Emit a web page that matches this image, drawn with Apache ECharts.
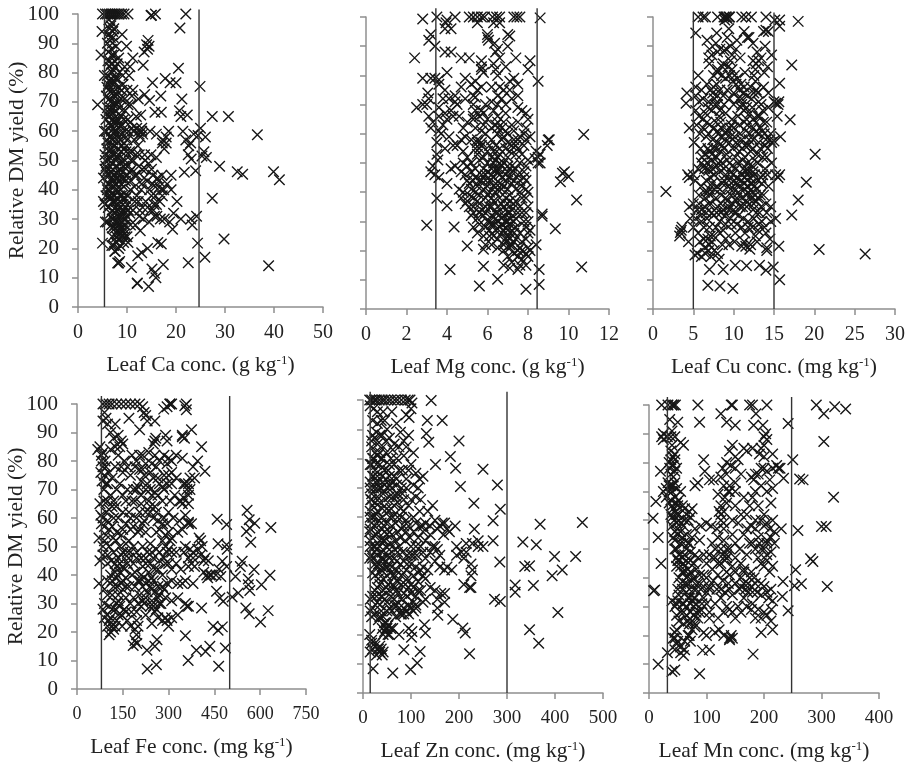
<!DOCTYPE html>
<html>
<head>
<meta charset="utf-8">
<style>html,body{margin:0;padding:0;background:#fff}#chart{width:909px;height:763px}</style>
<script src="https://cdn.jsdelivr.net/npm/echarts@6/dist/echarts.min.js"></script>
</head>
<body>
<div id="chart"></div>
<script>
const yTicksMax = 100

const caPoints = [[5,100],[5.6,100],[6,100],[6.4,100],[6.8,100],[7.2,100],[7.6,100],[8,100],[8.4,100],[8.9,100],[9.4,100],[10.2,100],[15,99.6],[15.8,100],[22,100],
[20.8,95.2],[20.5,81.5],[24.9,75.3],[27.4,65],[30.7,65],[36.6,58.8],[28.9,48],[32.5,46.2],[33.6,45.3],[39.9,46.2],[41.1,43.4],[27.4,37.1],[29.8,23.2],[38.9,14.1],[25.9,17],[24.4,21.8],[22.5,15.1],
[4,69],[4.7,86],[4.9,94],[5,21.8],[5.2,36],[5.4,79],[5.5,52],[5.2,44],[5.4,60],[5.6,29],[5.8,72],[5.7,48],[5.9,66],[6,90],[6,40],[6.1,56],[6.2,76],[6.2,34],[6.3,93],[6.4,63],[6.4,45],[6.5,84],[6.5,51],[6.6,70],[6.6,38],[6.7,96],[6.7,58],[6.8,88],[6.8,43],[6.9,74],[6.9,21],[7,80],[7,53],[7,30],[7.1,66],[7.1,47],[7.2,92],[7.2,36],[7.3,61],[7.3,86],[7.4,41],[7.4,72],[7.5,55],[7.5,28],[7.6,78],[7.6,19],[7.7,64],[7.7,50],[7.8,89],[7.8,34],[7.9,69],[7.9,44],[8,83],[8,25],[8.1,59],[8.1,39],[8.2,75],[8.2,52],[8.3,29],[8.3,15],[8.4,66],[8.4,46],[8.5,80],[8.5,36],[8.6,57],[8.6,21],[8.7,27],[8.8,71],[8.8,42],[8.9,50],[9,32],[9,93],[9,62],[9.1,26],[9.2,76],[9.2,37],[9.3,54],[9.4,44],[9.4,30],[9.5,82],[9.6,67],[9.6,24],[9.7,34],[9.8,58],[9.9,89],[10,74],[10,48],[10.1,38],[10.2,64],[10.2,22],[10.4,79],[10.5,53],[10.6,32],[10.8,43],[10.9,13.5],[11,61],[11.2,85],[11.2,74],[11.3,50],[11.5,57],[11.6,36],[11.7,28],[11.9,65],[12,45],[12.1,8],[12.2,17.5],[12.3,71],[12.4,60],[12.5,52],[12.6,33],[12.7,26],[12.8,65.5],[12.9,40],[13,18.5],[13.1,47],[13.2,59],[13.3,82.5],[13.3,30],[13.5,87],[13.6,72.5],[13.7,50],[13.8,36],[14,89.5],[14.1,43],[14.2,20],[14.3,91],[14.4,7],[14.5,29],[14.6,70.5],[14.7,60],[14.9,52],[15,38],[15.1,13],[15.2,76.5],[15.3,45],[15.4,33],[15.6,11.5],[15.7,66.5],[15.8,41],[15.9,10],[16,59],[16.1,31],[16.3,22],[16.5,43],[16.7,36],[16.9,72],[17,66.5],[17,21.5],[17.1,45],[17.2,56],[17.4,14.5],[17.5,40],[17.6,30],[17.8,78],[18,58],[18.2,42],[18.5,60],[18.8,76.5],[19,45],[19,40],[19.3,26.5],[19.5,32],[20,76.5],[20.2,36],[20.7,67],[21,65],[21.2,71],[21.4,60],[21,30],[21.7,46],[22,57],[22.3,65.5],[22.6,55],[23,30],[23.1,50.5],[23.3,28],[23.6,59],[24,46.5],[24.2,31],[24.5,58.5],[25,61],[25.3,51.5],[25.7,53],[26,58],[26.2,51]]

const caDense = [[6.3,98],[6.9,97],[7.3,95],[6.6,92],[7,90],[6.2,87],[6.9,86],[7.5,84],[6.4,82],[7.2,81],[6,79],[6.7,78],[7.4,77],[8,78],[6.2,74],[7,73],[7.7,73],[6.4,71],[7.3,69],[8.1,70],[6,68],[6.8,67],[7.6,67],[8.5,68],[6.3,65],[7.1,64],[7.9,63],[8.8,65],[6.6,62],[7.5,60],[8.4,61],[5.8,60],[6.4,58],[7.1,57],[7.9,57],[8.7,59],[9.6,60],[5.9,54],[6.7,54],[7.4,52],[8.2,54],[9,55],[10,57],[11.3,60],[12,61],[12.5,59],[13,61],[6.2,50],[7,49],[7.9,48],[8.7,49],[9.6,50],[5.8,46],[6.6,46],[7.4,45],[8.2,44],[9.1,46],[10.1,45],[11,47],[6.1,42],[7,41],[7.8,42],[8.6,40],[9.4,41],[5.7,38],[6.5,37],[7.3,38],[8.1,37],[8.9,38],[9.7,37],[6.2,34],[7,33],[7.8,33],[8.6,34],[9.3,33],[10,35],[8.3,31],[8.8,31],[9.5,32],[10,31],[7.2,30],[7.8,29],[8.4,28],[8.9,29],[9.5,28],[6.8,28],[7.6,27],[8.1,26],[8.7,25],[9.2,27],[9,24],[9.5,25],[8.2,23],[7.7,22],[7.3,21],[8.3,20],[10,24],[8.1,15],[8.5,15.5],[14.5,89],[15.2,42],[15.8,38],[16.2,44],[16.6,41],[17,40],[17.2,38],[15.5,35],[16,35],[14.8,33],[13,60],[12.7,58],[11.8,52],[12.4,48],[10.8,69],[11.6,45],[13.5,44],[14.4,49],[10.6,82],[11,72],[9.5,71],[10.6,63],[12,38],[13.2,34],[10.7,28],[17.3,57],[17.6,54],[18,56],[22.5,52],[23,56],[14.2,88],[12.1,8.2],[14.9,99.5]]

const caFill = [[6.5,95],[7.1,94],[6.1,84],[6.8,83],[7.6,82],[8.3,85],[6.4,77],[7.2,76],[8.4,73],[9.1,79],[5.9,75],[6.7,68],[7.5,70],[8.9,74],[5.7,64],[6.5,66],[7.3,63],[8.2,64],[9.3,64],[10.2,69],[5.9,57],[6.8,60],[7.7,59],[8.6,62],[9.4,56],[10.3,60],[5.6,50],[6.4,53],[7.2,55],[8,51],[8.9,53],[9.8,53],[10.8,50],[5.5,47],[6.1,47],[6.9,44],[7.7,46],[8.5,47],[9.3,48],[10.5,46],[5.8,41],[6.4,40],[7.2,43],[8,40],[8.8,44],[9.7,43],[10.7,40],[5.5,35],[6.3,38],[7,36],[7.8,36],[8.5,38],[9.2,35],[10.3,33],[11.2,33],[6.6,32],[7.5,32],[8.2,33],[9,29],[9.8,30],[6,29],[7,27],[7.9,24],[8.5,27],[9.3,22],[7,24],[7.5,19],[11.5,41],[12.3,36],[13,42],[13.8,47],[14.6,40],[15,47],[16,51],[11,53],[12.2,55],[13.6,52],[14.2,34],[12.5,31],[15.6,31],[18.7,29],[16.8,30]]

const mgPoints = [[2.8,99.3],[3.5,100],[8.6,99.7],[2.4,86],[10.75,59.8],[9,57.9],[9.7,46.5],[10,45.3],[9.6,43.6],[9.8,47],[10.4,37.3],[8.7,31.8],[9.35,27.5],[10.65,14.4],[3,28.7],[4.35,28.1],[3.5,37.9],[4,35.4],[5,21.6],[4.15,13.5],[5.8,14.6],[5.6,7.9],[6.5,10.2],[7.9,6.8],[8.55,8.4],[8.55,13.5],[6.8,15],
[4,99],[4.4,100],[5.1,100],[5.3,100],[5.5,100],[5.7,100],[5.85,100],[6.25,100],[6.45,100],[6.6,100],[7.3,100],[7.45,100],[7.6,100],[6,94],[6,93],[6.05,92],[7,94],[7.1,93.5],[3.9,96],[3.95,98],[3.1,92],[3.2,94],[3.4,90],[3.9,88],[4.2,88],[4.7,86],[5.1,86],[5.7,83],[6.4,88],[6.6,86],[7.4,86],[8.1,85],[8,82],[8.5,78],[7.3,79],[7,90],[6.4,82],[6.5,80],[4,81],[2.8,79],[3.2,79],[3.4,79],[3.6,78.5],[4.9,79],[5.4,78],[5.7,82],[6.6,76],[6.8,75],[7.1,78],[5.3,73],[5.5,75],[5.7,76],[3.05,74],[3.1,72],[3.8,72],[4.1,72],[4.4,73],[4.4,71],[4.9,72],[5.4,72.5],[5.9,70],[6.5,70],[7.2,72],[2.5,69],[2.8,70],[3,70],[3.6,69],[3.9,67],[4.2,68],[5.3,66],[5.6,66],[5.8,67],[6.3,68],[6.9,67],[7.5,69],[7.7,68],[7.9,67],[8,65],[3.1,66],[3.3,64],[3.6,66],[4,65],[4.3,66],[3.2,62],[3.6,61],[3.7,60],[5,64],[5.3,65],[5.8,63],[6.4,63],[6.5,64],[7,60],[7.3,61],[7.6,59],[8.1,59],[4.7,58],[4.9,59],[5.2,58],[5.5,57],[5.7,56],[5.9,60],[6.2,58],[6.5,60],[6.7,58],[7,57],[7.2,56],[7.5,58],[7.8,56],[8.35,51.5],[8.5,52],[8.6,53],[3.5,53],[3.55,51],[3.3,49],[3.2,47],[3.4,46],[3.6,45],[4,43],[4.2,48],[4.4,49],[4.8,50],[5,49],[5.2,47],[5.4,45],[5.6,51],[5.8,48],[6,54],[6.2,52],[6.3,50],[6.5,48],[6.6,53],[6.8,50],[7,52],[7.2,49],[7.4,53],[7.6,50],[7.8,47],[8,51],[5,44],[5.2,41],[5.5,42],[5.7,44],[5.9,46],[6,42],[6.1,40],[6.3,45],[6.4,43],[6.6,46],[6.7,41],[6.9,44],[7,47],[7.1,39],[7.3,44],[7.5,46],[7.7,42],[7.9,44],[8,40],[4.7,38],[4.9,36],[5.1,35],[5.3,38],[5.5,37],[5.7,34],[5.9,38],[6.1,35],[6.3,37],[6.4,33],[6.6,38],[6.8,35],[7,36],[7.2,34],[7.4,37],[7.6,35],[7.9,38],[5.2,32],[5.5,31],[5.8,32],[6,30],[6.2,29],[6.4,31],[6.6,28],[6.8,32],[6.9,30],[7.1,31],[7.2,27],[7.9,28],[8,30],[5.5,26],[5.8,25],[6.1,27],[6.3,25],[6.5,24],[6.7,26],[6.9,23],[7,25],[7.2,22],[7.4,24],[7.6,21],[7.9,24],[8.4,22],[5.8,20.5],[6.2,22],[6.8,20],[7.1,21],[7.3,19],[7.5,18],[7.7,17],[7.9,19],[8.1,20],[7.2,16],[7.5,13.5],[7.9,15],[8,18]]

const mgDense = [[5.5,58],[5.7,57],[5.6,55],[6.4,56],[6.6,55],[6.8,59],[7.1,54],[7.3,58],[7.4,56],[6.3,54],[6.5,52],[6.4,51],[6.6,50],[6.7,49],[6.5,47],[6.2,48],[6,50],[5.9,44],[6.1,44],[6.2,46],[6.3,42],[6.5,41],[6,39],[6.2,38],[6.4,40],[6.6,43],[6.8,42],[7,41],[7.2,43],[7.4,41],[7.6,40],[7.7,38],[7.8,45],[7,49],[7.2,47],[7.4,48],[6.9,46],[6.7,36],[6.9,38],[7.1,37],[7.3,36],[7.5,33],[6.2,35],[5.9,35],[5.6,36],[5.3,35],[5,37],[6.5,33],[6.7,31],[6.9,34],[7,33],[7.1,29],[6.9,28],[6.7,29],[6.5,30],[6.3,29],[6.1,30],[6.8,27],[7,27],[7,30],[7.3,30],[5.6,44],[5.4,48],[5.2,50],[5.7,46],[5.5,53],[6.9,24],[7.1,22],[6.8,22],[7.3,23],[7.5,20],[7.7,20],[8,21],[6.5,89],[6.35,91],[5.7,85],[5.8,81],[6.3,84],[6.5,73],[6.7,72],[5.3,70],[5.4,68],[5.7,68],[4.5,70],[3.8,63],[3.9,75],[8.5,50],[8.4,54],[8.6,50],[9.05,58],[8.95,56],[8.7,32.5],[8.1,27],[5.4,62],[5.7,61],[6.5,66],[3.6,77],[6.6,98],[6.3,98],[5.5,98],[4.2,96],[7.1,75],[6.5,62],[6.7,62],[6.9,61],[7.9,62]]

const mgFill = [[4.5,56],[4.8,54],[5,52],[5.4,55],[5.8,52],[6.1,56],[6.9,55],[7.5,55],[7.7,53],[7.9,58],[4.7,47],[4.9,46],[5.1,43],[5.3,44],[5.4,40],[5.6,39],[5.8,41],[6,47],[6.4,48],[6.7,45],[7.1,45],[7.6,44],[7.9,41],[7.9,49],[4.6,41],[4.8,40],[5.1,39],[5.3,33],[5.6,33],[5.9,33],[6.2,32],[6.5,35],[7.1,33],[7.4,31],[7.7,33],[7.9,33],[8,35],[5.3,28],[5.6,29],[5.9,28],[6.1,25],[6.4,27],[7.4,28],[7.6,26],[7.8,30],[7.1,24],[7.3,26],[7.7,23],[8,26],[5.9,22],[6.5,21],[7,18],[7.6,15],[7.1,14],[4.1,59],[4.3,56],[3.5,57],[3.9,55],[6,65],[6.2,62],[6.8,64],[7.2,63],[7.5,64],[7.8,60],[6.2,71],[6.9,70],[7.5,73],[5.2,77],[4.7,76],[4.6,66],[4.8,62],[6.9,83],[7.5,77],[6.2,76]]

const cuPoints = [[1.6,40.2],[3.4,26.2],[18,98.5],[17.2,83.6],[17,64.8],[20.1,53],[19,43.4],[18,37.3],[17.2,32.2],[20.6,20.4],[26.3,18.8],[15.7,10],[15.7,99],[15.7,96.8],[15.7,77.3],[6.8,8.1],[8.3,7.9],[9.9,7],[7,13.5],[8.7,13.5],[10.2,15],[11.6,14.8],[13.2,15],[14.9,14.4],[14,13.3],
[5.6,100],[6.2,100],[6.5,100],[8,100],[8.8,100],[9.1,100],[9.4,100],[11,100],[11.5,100],[12.2,100],[14,100],[15.1,99],[5.3,94.5],[7.9,94.5],[9.4,96],[9.2,93],[11.3,95],[11.7,93],[13.7,95],[14,95.5],[13.9,90],[14.7,87],[7,89],[7.3,87],[8.3,89],[8.8,88.5],[9.8,87],[10.3,89],[10.8,86],[6.9,86],[7,84],[12.7,82],[12.8,84],[13.1,85],[13.4,86],[12.5,80],[5.6,80],[8,82],[8.5,80],[9,79],[9.5,80],[9.9,78],[10.3,77],[5.3,76],[6,75],[6.7,77],[7.5,76],[8.3,75],[8.7,73],[10.7,75],[11.2,74],[11.7,73],[12.2,72],[12.8,75],[13.7,76],[14.3,74],[4.2,74],[4.1,70.5],[5.3,73],[6.2,72],[6.9,71],[7.6,72],[8,70],[8.8,70],[9.5,72],[10,70],[11,70],[11.3,68],[12.3,69],[13.4,70],[14.3,69],[15,71],[15.2,70.5],[5.3,68],[5.7,66],[6.5,67],[7.3,68],[8.2,66],[9,67],[9.8,65],[10.5,66],[11.3,64],[12.4,65],[13,66],[13.7,64],[15.4,66],[4.5,62],[5.4,63],[6.2,62],[7,63],[7.8,64],[8.5,62],[9.2,61],[10,62],[10.8,60],[11.5,61],[12.4,62],[13,60],[13.6,61],[5.1,57],[6.6,59],[7.4,58],[8.1,60],[8.9,58],[9.6,59],[10.3,57],[11,58],[11.8,56],[12.4,58],[13.1,57],[13.9,56],[14.5,58],[15,57.5],[15.8,59],[7,54],[7.8,55],[8.4,54],[9.1,53],[9.9,55],[10.7,54],[11.4,52],[12.1,54],[12.9,53],[13.6,52],[6,50],[6.7,50],[7.3,51],[7.9,49],[8.6,50],[9.2,51],[9.8,49],[10.5,50],[11.2,48],[11.7,50],[12.3,49],[13,50],[13.9,48],[6.4,48],[6.9,47.5],[7.6,46],[8.3,47],[9,46],[9.7,47],[10.4,45],[11,46],[11.5,47],[12,45],[12.6,46],[13.4,45],[14.2,46],[4.5,45],[5,46],[15.2,46],[15.7,46],[15.5,45],[6,42],[6.6,44],[7.3,43],[7.9,42],[8.6,43],[9.3,42],[10,41],[10.7,42],[11.3,43],[11.8,42],[12.3,43],[12.9,41],[13.5,43],[5.7,39],[6.4,40],[7.1,39],[7.8,38],[8.5,39],[9.2,37],[9.9,36],[10.4,38],[11,38],[11.6,39],[12.2,38],[12.8,37],[13.3,39],[4.5,35],[5,36],[5.7,36],[6.4,35],[7.2,36],[8,35],[8.7,34],[9.4,34],[10.1,33],[10.8,35],[11.6,35],[12.4,34],[13.2,33],[14,36],[14.6,35],[4.6,31],[5.3,31],[5.9,32],[6.7,31],[7.5,32],[8.3,30],[9.6,31],[10.4,29],[11,28],[11.8,30],[12.5,31],[13.1,29],[13.8,28],[14.6,30],[15.2,31],[3.5,27],[4.4,23],[5,28],[5.6,26],[6.3,28],[7.1,25],[7.3,23],[8.3,26],[9,24],[9.4,22],[11,21.5],[11.5,21.5],[12.1,22],[14.1,21],[14.1,20],[15.6,21.5],[5.2,18.5],[5.5,19],[6,18],[6.4,21],[7.2,18],[8,19],[8.2,17]]

const cuDense = [[9,100],[9.2,99.5],[9.5,100],[8.9,99],[9.8,82],[10.1,80],[10.5,79],[10.9,77],[11.3,76],[9.3,83],[8.6,83],[9.6,90],[9.1,89],[8,88],[12.9,88],[12.4,85],[12.7,78],[13,74],[11,72],[11.6,69],[12,67],[12.5,74],[10.6,72],[8,73],[7.4,74],[7.1,75],[7.7,70],[8.3,68],[12,60],[11.7,63],[12.8,64],[13.3,62],[8.4,64],[9,60],[9.5,62],[8,57],[7.5,55],[8.6,56],[10.1,59],[10.6,56],[11.4,56],[11.9,58],[12.4,55],[13.3,55],[14,58],[14.7,57],[6.3,49],[6.8,48],[7.4,48],[7.9,52],[8.1,50],[8.8,48],[9.9,46],[10.3,48],[11.1,51],[11.6,48],[11.4,45],[11.9,47],[12.4,47],[12.1,43],[11.7,44],[11.3,41],[11.8,40],[12.3,40],[12.6,42],[13,44],[12.7,39],[11.5,37],[12,36],[12.5,36],[13,38],[10.6,40],[10.2,43],[9.7,39],[9.4,35],[10,34],[9,38],[8.4,36],[8.9,32],[7.6,41],[7,41],[6.5,38],[6.9,36],[6,34],[7.3,33],[7.9,33],[10.6,32],[11.2,31],[11.8,28],[12.3,28],[13,27],[13.5,30],[6.8,24],[7,22],[6.9,20],[6.5,19],[7.6,20],[11.3,23],[12,20.5],[4.3,46],[5.2,44],[3.6,28],[3.3,25],[6.2,65],[6.7,64],[7.5,62],[8,61],[6.8,55],[7.3,53],[6.4,53],[5.6,48],[14.1,52],[14.6,60],[13.2,66],[13.6,68],[14.3,95],[11.9,93],[8,81],[15.5,70],[15.6,71]]

const cuFill = [[5.7,71],[6.8,69],[7.9,77],[9.2,75],[10,74],[10.9,69],[12.1,76],[13.1,71],[14.1,64],[5.8,60],[6.9,60],[8.4,59],[9.7,63],[10.7,63],[11.6,65],[12.8,61],[13.8,60],[5.9,55],[6.1,52],[8.8,55],[9.5,57],[10.2,52],[11.1,55],[12.6,51],[14.2,55],[14.7,50],[7.1,45],[8.8,44],[9.4,44],[10.1,44],[10.9,44],[13.6,46],[14.3,42],[6.8,40],[8.3,41],[9.6,41],[10.3,37],[11.1,35],[13.7,39],[14.1,33],[5.5,34],[6.6,33],[8.4,33],[9,29],[9.7,29],[12.8,33],[13.4,35],[6,30],[7,28],[7.8,28],[8.7,27],[10.2,26],[11.4,26],[12.7,25],[14,26],[14.5,24],[5.8,23],[6.3,24],[7.5,25],[8.6,22],[10.1,23],[12.9,23],[7.5,80],[8.7,84],[9.6,85],[11.4,81],[13.8,81],[14.2,83],[10.4,92],[12.4,91],[7.8,91],[6.7,92]]

const fePoints = [[635,56.7],[632,39.9],[626,27.5],[601,23.5],[604,36.6],[569,51.5],[557,62.7],[564,59.4],[582,58.2],[555,55.3],[566,56.5],[580,41.9],[541,44.8],[535,43],[519,39.5],[528,33.7],[508,32.3],[553,28.4],[564,26.4],[561,36.6],[566,34.6],[561,38.6],[492,49],[490,50.6],[462,51],[490,57.7],[459,59.6],[476,44.8],[490,43],[471,39.5],[435,40],[457,34.3],[468,31.9],[479,30.8],[446,22],[462,20.6],[476,21.8],[486,14.4],[464,8],[435,15],[421,13.2],[391,13.6],[364,10],[355,18.7],[408,28.4],[260,8.5],[230,7],[229,13.6],[255,15],[262,17.3],[184,15.3],[196,16],[375,91],[408,85],[419,76.4],[353,99.4],[358,100],[304,100],[310,100],[284,98.2],[295,99],
[85,100],[95,100],[105,100],[115,100],[130,100],[145,100],[160,100],[175,100],[190,100],[205,100],[215,99],[220,97],[225,96],[230,94],[95,95],[100,93],[85,94],[90,97],[170,95],[205,91],[255,94],[258,88],[250,86],[290,89],[295,87],[345,88.5],[352,88],[125,93],[110,90],[120,88],[135,89],[145,87],[140,85],[75,85],[68,84],[85,83],[80,80],[95,78],[90,75],[82,73],[88,70],[100,72],[110,68],[120,66],[128,64],[75,65],[95,62],[85,60],[80,58],[100,59],[115,57],[130,55],[145,54],[72,53],[90,52],[105,50],[120,48],[85,47],[75,45],[100,44],[135,46],[140,44],[150,43],[125,41],[110,40],[160,39],[72,37],[130,36],[170,36],[150,35],[115,33],[90,30],[105,29],[125,28],[140,29],[155,28],[178,27],[90,25],[110,25],[130,24],[100,22],[120,21],[148,22],[105,19],[190,21],[195,19],[200,22],[155,80],[165,78],[150,76],[180,82],[195,80],[215,82],[205,77],[225,79],[240,76],[210,73],[185,70],[200,71],[225,70],[245,68],[265,74],[280,71],[295,79],[300,75],[310,72],[325,82],[345,81],[325,74],[350,72],[360,70],[370,74],[380,78],[395,80],[385,74],[190,66],[210,65],[235,66],[255,64],[280,66],[305,66],[335,66],[345,65],[365,65],[240,62],[250,60],[285,60],[295,58],[335,59],[365,58],[375,58],[195,60],[175,56],[205,56],[225,55],[270,56],[290,54],[310,53],[160,51],[185,50],[215,50],[240,51],[260,49],[290,50],[305,52],[350,48],[370,49],[395,49],[405,52],[410,50],[170,46],[195,46],[225,46],[270,45],[290,44],[300,44],[365,46],[380,46],[420,46],[430,45],[215,43],[235,41],[180,40],[200,38],[225,37],[250,38],[265,36],[285,35],[330,37],[355,38],[380,37],[385,43],[415,41],[425,40],[440,40],[230,34],[270,33],[290,32],[310,31],[330,32],[215,31],[240,29],[260,28],[275,30],[355,30],[365,29],[330,26],[295,24],[300,22]]

const feDense = [[80,82],[85,78],[92,80],[78,76],[95,72],[88,66],[100,66],[105,63],[115,64],[78,61],[90,57],[105,56],[95,54],[118,53],[128,52],[85,50],[100,47],[112,45],[125,44],[130,43],[140,41],[145,47],[130,39],[150,38],[135,33],[145,37],[120,36],[90,35],[100,33],[85,28],[98,26],[115,28],[130,30],[145,26],[160,27],[125,22],[110,20],[195,24],[190,17],[205,38],[215,36],[235,38],[240,36],[245,35],[255,34],[265,32],[270,30],[220,39],[245,39],[225,32],[210,29],[250,29],[255,27],[220,30],[175,60],[185,57],[200,55],[215,58],[170,52],[195,48],[210,46],[225,44],[250,46],[270,48],[285,46],[295,48],[255,42],[165,44],[185,44],[160,36],[185,32],[175,30],[195,70],[210,68],[230,72],[250,74],[265,68],[240,64],[255,69],[285,75],[295,72],[310,76],[340,66],[350,67],[355,72],[365,72],[370,70],[365,68],[215,77],[245,79],[260,78],[285,82],[300,81],[190,78],[165,70],[150,62],[140,72],[125,78],[145,78],[205,62],[225,62],[220,59],[265,59],[280,58],[300,55],[280,52],[300,49],[260,55],[310,48],[365,43],[375,44],[380,48],[400,53],[405,47],[415,45],[428,39],[455,40],[465,42],[285,70],[255,87],[345,89],[365,58.5],[290,25],[360,29],[305,100],[358,98]]

const feFill = [[110,84],[125,85],[135,82],[150,86],[105,76],[115,74],[130,70],[120,60],[135,60],[150,56],[160,58],[170,62],[160,66],[150,68],[175,75],[205,82],[235,83],[255,82],[270,80],[310,80],[180,66],[220,75],[240,70],[270,72],[320,68],[300,62],[315,60],[260,62],[330,55],[165,48],[150,48],[140,50],[155,42],[175,48],[190,41],[210,40],[230,48],[245,48],[240,44],[265,42],[280,40],[310,42],[325,44],[340,42],[355,50],[345,37],[100,38],[115,38],[135,31],[160,32],[190,36],[205,33],[245,31],[265,25],[200,30],[225,26],[245,23],[280,24],[310,25],[165,24],[175,22],[105,24],[115,22],[135,26],[195,27],[310,38],[325,48],[345,56],[355,61],[280,36],[295,37]]

const znPoints = [[457,58.2],[369,57.6],[333,51.5],[361,50.6],[399,46.6],[443,46.6],[415,42],[394,40],[337,43.2],[347,43.4],[317,36.9],[355,36.7],[317,34.4],[406,27.5],[347,21.6],[366,17],[285,44.7],[271,52],[271,58.8],[286,62.7],[280,71],[250,76.4],[203,70.5],[231,64.8],[193,76.7],[182,80.7],[200,86],[151,78],[165,93],[134,93],[142,99.8],[132,88.6],[137,85.6],[274,32],[286,31.2],[222,13.4],[213,20.5],[208,22.2],[187,25.2],[156,26.5],[128,23.3],[130,20.5],[119,14.2],[113,10.2],[99,8],[62,6.8],[21,8.3],[85,14.8],[101,19],
[14,100],[18,100],[24,100],[28,100],[34,100],[40,100],[45,100],[52,100],[58,100],[66,100],[72,100],[80,100],[88,100],[94,100],[98,100],[102,99],[100,97],[90,95],[60,96],[42,96],[38,93],[30,92],[20,93],[50,90],[70,92],[96,94],[78,89],[85,86],[65,85],[55,87],[40,88],[20,88],[18,86],[90,84],[105,82],[85,81],[70,80],[55,78],[38,80],[30,81],[22,80],[18,78],[25,76],[35,78],[45,76],[75,76],[100,78],[110,75],[118,73],[125,74],[90,73],[70,73],[55,74],[40,74],[32,72],[20,74],[15,72],[28,70],[45,71],[60,70],[80,70],[18,68],[30,67],[42,68],[55,67],[70,67],[85,66],[100,66],[110,67],[120,66],[20,64],[35,65],[50,63],[65,64],[85,62],[15,62],[28,61],[40,60],[56,60],[72,60],[90,59],[110,58],[135,62],[145,64],[150,59],[165,58],[175,56],[192,57],[232,56],[125,57],[140,57],[155,56],[168,54],[125,55],[105,55],[80,56],[60,57],[45,55],[25,57],[15,56],[20,53],[35,52],[50,54],[68,52],[88,52],[110,50],[130,52],[150,50],[155,49],[215,51],[228,51],[240,52],[195,50],[250,50],[15,50],[28,49],[40,48],[55,49],[72,48],[92,47],[112,47],[130,46],[150,45],[195,47],[210,46],[20,46],[32,44],[46,45],[60,43],[78,44],[100,44],[125,43],[160,43],[170,42],[185,42],[228,42],[35,41],[50,40],[68,40],[85,41],[105,40],[125,40],[130,39],[225,40],[210,37],[225,36],[35,37],[48,36],[62,37],[80,37],[95,36],[115,35],[140,36],[150,35],[170,34],[40,33],[58,33],[72,34],[92,33],[110,33],[125,31],[155,32],[170,31],[15,32],[30,31],[50,31],[70,30],[85,29],[100,29],[110,29],[20,29],[38,28],[60,28],[78,27],[18,26],[32,25],[45,24],[50,22],[55,20],[62,22],[75,20],[95,22],[102,21],[42,20],[18,18],[25,16],[35,14],[15,14],[42,14],[28,13]]

const znDense = [[15,98],[22,97],[30,96],[45,93],[28,89],[18,84],[30,85],[42,84],[25,82],[35,82],[48,82],[58,80],[20,80],[15,78],[28,78],[40,77],[22,74],[30,74],[48,73],[60,72],[70,71],[15,70],[22,70],[35,70],[52,70],[65,74],[18,66],[25,65],[40,63],[58,63],[72,65],[82,68],[15,60],[22,60],[33,59],[48,58],[62,60],[80,60],[95,57],[18,58],[28,54],[40,56],[55,55],[72,55],[90,55],[115,53],[120,57],[130,58],[140,54],[160,57],[15,52],[25,50],[35,50],[45,52],[58,51],[75,50],[100,50],[18,47],[30,47],[42,46],[52,47],[65,46],[85,45],[105,47],[28,43],[40,43],[52,43],[70,42],[90,42],[110,43],[25,40],[42,39],[58,41],[72,38],[92,39],[120,42],[30,36],[42,35],[55,35],[70,35],[85,34],[100,34],[120,35],[28,33],[45,32],[65,32],[80,32],[95,30],[105,31],[110,30],[35,30],[55,29],[75,29],[85,27],[90,28],[15,28],[25,27],[42,26],[68,26],[48,22],[52,20],[58,22],[45,21],[25,17],[32,15],[38,15],[18,17],[40,13],[170,58],[180,55],[145,50],[160,47],[175,43],[225,44],[215,48],[205,48],[240,50],[162,34],[155,29],[222,36],[130,32]]

const znFill = [[24,87],[35,88],[48,86],[62,83],[75,84],[95,88],[40,80],[52,76],[65,78],[82,76],[95,76],[115,70],[26,72],[38,70],[55,71],[72,68],[90,70],[105,71],[16,66],[30,62],[46,66],[62,67],[78,63],[95,64],[20,60],[38,58],[54,62],[68,58],[85,57],[105,60],[118,62],[14,55],[30,55],[42,52],[60,54],[78,53],[98,53],[120,50],[22,50],[38,46],[48,50],[66,49],[82,48],[100,47],[125,48],[140,48],[14,46],[25,44],[38,42],[55,46],[70,45],[92,44],[115,41],[135,42],[20,41],[32,39],[48,43],[62,40],[80,40],[100,37],[115,38],[25,35],[38,33],[52,37],[66,36],[88,37],[105,36],[20,33],[50,28],[65,30],[80,27],[95,27],[105,28],[35,26],[48,24],[52,23],[40,22],[14,20],[20,15],[35,16]]

const mnPoints = [[342,98.6],[323,99.4],[291,100],[304,97],[304,87.3],[321,68],[300,57.8],[308,57.8],[281,46.6],[285,45.7],[310,37],[265,37.9],[253,37.2],[255,42.8],[259,56.4],[242,93.6],[250,81],[234,74.6],[262,74.3],[268,74],[242,28.6],[233,38.7],[232,33.5],[10,35.8],[8,35.5],[7,60.7],[12,66.5],[16,54],[21,45],[16,10],[88,6.7],[45,8],[40,7.5],[181,13.5],[105,15],[93,14.8],
[22,100],[33,100],[40,100],[43,100],[46,100],[85,100],[143,100],[145,100],[175,100],[180,100],[205,100],[125,97],[135,94],[150,93],[182,93],[198,93],[186,97],[88,94],[50,94],[36,95],[40,91],[22,89],[25,90],[45,89],[55,87],[60,86],[200,89],[203,90],[145,86],[140,84],[165,85],[180,85],[192,83],[200,82],[95,81],[38,81],[42,79],[36,78],[45,77],[20,77],[97,77],[105,74],[112,74],[85,73],[80,72],[135,80],[128,78],[150,78],[160,76],[190,76],[205,77],[222,79],[228,78],[178,75],[150,73],[210,74],[215,71],[25,70],[35,72],[40,70],[45,73],[55,70],[30,68],[38,67],[48,66],[42,64],[120,69],[132,68],[140,70],[165,68],[212,66],[190,65],[175,65],[38,62],[48,62],[62,64],[70,63],[68,60],[122,63],[125,62],[170,62],[185,60],[200,62],[145,60],[40,58],[50,57],[55,59],[80,57],[90,58],[100,59],[108,58],[130,57],[145,55],[165,55],[185,57],[200,58],[210,57],[218,56],[230,57],[75,54],[58,54],[45,53],[68,52],[88,53],[130,53],[135,50],[125,50],[150,52],[190,54],[205,53],[45,50],[52,48],[65,50],[80,48],[105,48],[115,47],[135,47],[170,48],[185,50],[200,50],[212,49],[50,46],[62,44],[72,46],[100,45],[125,45],[165,43],[178,42],[205,46],[215,44],[58,42],[70,41],[82,43],[95,41],[128,39],[140,41],[150,38],[160,40],[172,38],[183,40],[55,38],[66,38],[75,39],[105,37],[118,36],[140,36],[168,36],[180,35],[200,37],[212,36],[52,34],[65,35],[80,33],[100,35],[125,33],[165,33],[195,34],[208,33],[40,32],[48,31],[60,31],[72,31],[78,30],[90,29],[105,28],[140,29],[145,28],[170,30],[178,29],[200,28],[213,29],[55,28],[65,27],[85,26],[105,26],[150,26],[185,26],[205,27],[212,25],[70,24],[80,23],[95,21],[115,21],[122,22],[130,20],[45,21],[48,22],[42,19],[68,20],[100,20],[140,19],[145,19],[195,21],[215,22],[48,17],[62,18],[45,15],[32,14],[55,14],[60,13]]

const mnDense = [[38,84],[42,82],[35,80],[45,81],[40,79],[38,76],[42,75],[48,78],[33,73],[38,72],[42,72],[48,71],[35,70],[30,71],[45,68],[52,67],[35,66],[40,65],[46,63],[50,65],[40,61],[44,60],[48,59],[52,60],[65,62],[72,61],[75,64],[60,58],[45,56],[50,55],[42,54],[55,52],[48,50],[52,46],[58,47],[62,48],[48,47],[55,44],[60,42],[68,43],[65,40],[72,42],[78,40],[62,38],[70,36],[78,36],[85,38],[58,36],[68,33],[75,32],[82,31],[72,28],[78,27],[88,28],[80,24],[75,22],[70,20],[72,18],[62,15],[55,16],[50,18],[45,19],[125,65],[130,63],[135,66],[138,70],[130,72],[125,75],[150,82],[142,79],[135,76],[140,72],[125,60],[118,57],[140,50],[135,48],[132,46],[128,48],[165,42],[175,40],[185,38],[172,35],[160,37],[180,31],[200,44],[210,42],[205,52],[215,60],[205,59],[195,60],[180,52],[190,47],[195,45],[115,50],[110,47],[120,45],[110,43],[100,40],[105,36],[95,33],[90,36],[145,44],[138,38],[145,34],[155,30],[200,86],[205,88],[195,85],[215,78],[225,78],[195,78],[200,78],[185,76],[182,74],[40,100],[32,89],[25,88],[38,89],[40,86],[45,83],[65,55],[70,52],[60,52],[58,31],[50,32],[140,18.5],[143,20]]

const mnFill = [[52,62],[58,65],[62,60],[55,56],[48,44],[52,40],[60,45],[65,46],[72,49],[78,45],[85,47],[95,48],[110,52],[120,54],[150,47],[158,50],[175,52],[195,50],[205,48],[218,52],[150,42],[158,36],[165,38],[178,37],[188,35],[195,38],[205,35],[215,32],[120,41],[112,39],[125,36],[132,35],[135,42],[95,37],[88,41],[82,36],[78,33],[92,31],[100,31],[115,31],[130,28],[135,30],[160,28],[190,29],[195,26],[75,25],[68,25],[60,24],[52,25],[48,27],[45,30],[50,36],[60,28],[82,28],[65,30],[70,33],[120,26],[160,45],[155,59],[170,57],[178,58],[192,52],[212,54],[130,59],[150,65],[160,62],[180,68],[195,72],[185,70],[205,70],[215,83],[150,70],[155,81],[170,84]]

const panels = [
  { name: 'Ca', unit: 'g', pts: caPoints.concat(caDense, caFill), xMax: 50, xStep: 10, limits: [5.4, 24.7], box: [78, 14, 245, 293], top: 101.5, xFont: 20, yName: true },
  { name: 'Mg', unit: 'g', pts: mgPoints.concat(mgDense, mgFill), xMax: 12, xStep: 2, limits: [3.45, 8.45], box: [366, 17, 243, 292], top: 103, xFont: 20 },
  { name: 'Cu', unit: 'mg', pts: cuPoints.concat(cuDense, cuFill), xMax: 30, xStep: 5, limits: [5, 15], box: [653, 17, 242, 292], top: 101.5, xFont: 20 },
  { name: 'Fe', unit: 'mg', pts: fePoints.concat(feDense, feFill), xMax: 750, xStep: 150, limits: [80, 500], box: [77, 404, 229, 285], top: 102.8, xFont: 18, yName: true },
  { name: 'Zn', unit: 'mg', pts: znPoints.concat(znDense, znFill), xMax: 500, xStep: 100, limits: [15, 300], box: [363, 400, 240, 293], top: 102.8, xFont: 19 },
  { name: 'Mn', unit: 'mg', pts: mnPoints.concat(mnDense, mnFill), xMax: 400, xStep: 100, limits: [32, 248], box: [649, 405, 230, 288], top: 102.8, xFont: 19 },
]

const FONT = '"Liberation Serif", "Times New Roman", serif'
const AXIS_GREY = '#8f8f8f'
const INK = '#161616'
// 叉号用路径画，只描边不填充
const CROSS = 'path://M0,0L10,10M10,0L0,10'

function buildOption() {
  const grid = [], xAxis = [], yAxis = [], series = []
  panels.forEach((p, i) => {
    grid.push({ left: p.box[0], top: p.box[1], width: p.box[2], height: p.box[3] })
    const axisLine = { show: true, lineStyle: { color: AXIS_GREY, width: 1.5 } }
    const axisTick = { show: true, length: 6, lineStyle: { color: AXIS_GREY, width: 1.5 } }
    xAxis.push({
      type: 'value', gridIndex: i, min: 0, max: p.xMax, interval: p.xStep,
      splitLine: { show: false }, axisLine, axisTick,
      axisLabel: { color: '#222', fontFamily: FONT, fontSize: p.xFont, margin: 16, hideOverlap: false, showMinLabel: true, showMaxLabel: true },
      name: `Leaf ${p.name} conc. (${p.unit} kg{sup|-1})`,
      nameLocation: 'middle', nameGap: 47, nameMoveOverlap: false,
      nameTextStyle: {
        color: '#222', fontFamily: FONT, fontSize: 21.5,
        rich: { sup: { fontSize: 13, fontFamily: FONT, color: '#222', verticalAlign: 'top', padding: [0, 0, 8, 0] } },
      },
    })
    yAxis.push({
      type: 'value', gridIndex: i, min: 0, max: yTicksMax, interval: 10,
      splitLine: { show: false }, axisLine, axisTick,
      axisLabel: { show: !!p.yName, color: '#222', fontFamily: FONT, fontSize: 21, margin: 19 },
      name: p.yName ? 'Relative DM yield (%)' : '',
      nameLocation: 'middle', nameGap: 50, nameMoveOverlap: false,
      nameTextStyle: { color: '#222', fontFamily: FONT, fontSize: 21.5 },
    })
    series.push({
      type: 'line', xAxisIndex: i, yAxisIndex: i, clip: false, symbol: 'none', silent: true,
      lineStyle: { color: '#333', width: 1.4 }, data: [[p.limits[0], 0], [p.limits[0], p.top]],
    })
    series.push({
      type: 'line', xAxisIndex: i, yAxisIndex: i, clip: false, symbol: 'none', silent: true,
      lineStyle: { color: '#333', width: 1.4 }, data: [[p.limits[1], 0], [p.limits[1], p.top]],
    })
    series.push({
      type: 'scatter', xAxisIndex: i, yAxisIndex: i, clip: false, symbol: CROSS, symbolSize: 10.5,
      large: false,
      itemStyle: { color: 'rgba(0,0,0,0)', borderColor: INK, borderWidth: 1.4, opacity: 1 },
      data: p.pts,
    })
  })
  return { animation: false, backgroundColor: '#fff', grid, xAxis, yAxis, series }
}

const chart = echarts.init(document.getElementById('chart'), null, { renderer: 'canvas' })
chart.setOption(buildOption())
</script>
</body>
</html>
